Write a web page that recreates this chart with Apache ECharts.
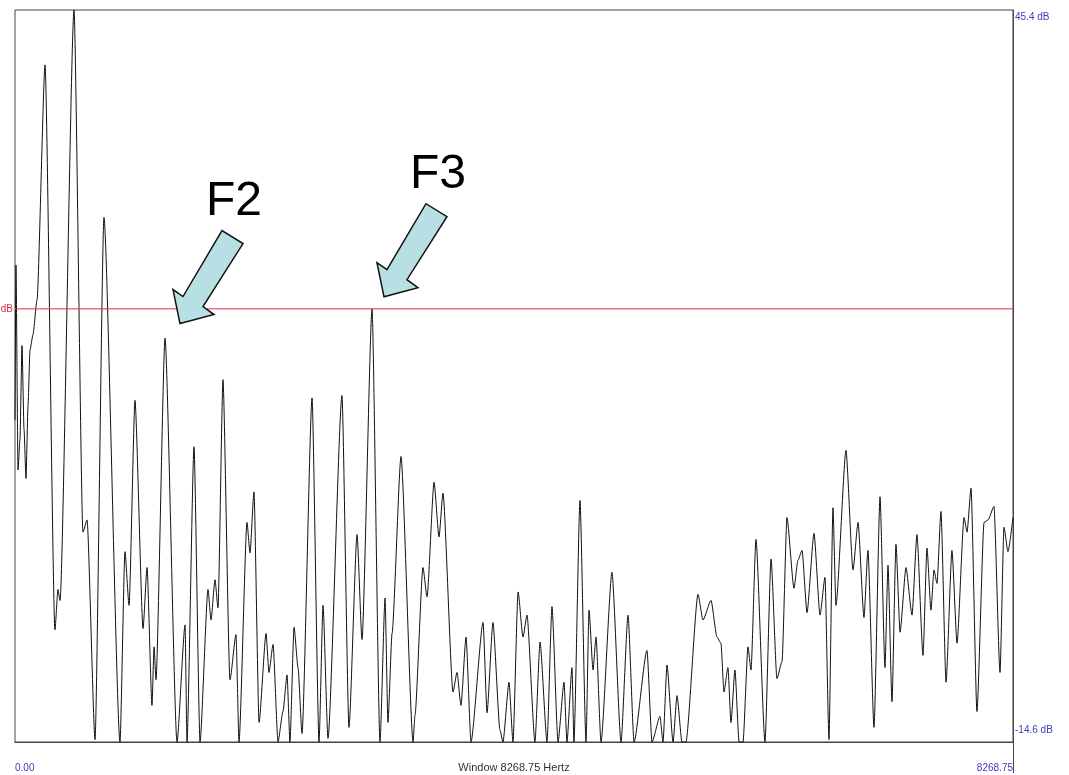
<!DOCTYPE html>
<html>
<head>
<meta charset="utf-8">
<script src="https://cdn.jsdelivr.net/npm/echarts@6/dist/echarts.min.js"></script>
<style>
  html, body { margin: 0; padding: 0; background: #fff; }
  #spectrum { width: 1069px; height: 775px; }
</style>
</head>
<body>
<div id="spectrum"></div>
<script>
// spectrum trace: frequency (Hz) and level (dB)
const freqHz = [
  0, 8, 25, 41, 58, 75, 91, 108, 124, 149, 182, 249, 331, 356, 373, 489, 563, 597, 663, 737,
  870, 911, 945, 994, 1061, 1094, 1135, 1152, 1168, 1243, 1342, 1409, 1425, 1483, 1533, 1599, 1624, 1657, 1682, 1723,
  1781, 1831, 1856, 1922, 1947, 1980, 2022, 2080, 2104, 2138, 2179, 2220, 2254, 2278, 2312, 2345, 2378, 2461, 2519, 2552,
  2593, 2709, 2767, 2834, 2875, 2958, 3024, 3066, 3090, 3124, 3198, 3298, 3314, 3380, 3414, 3472, 3513, 3546, 3629, 3662,
  3695, 3737, 3778, 3878, 3911, 3960, 4018, 4043, 4093, 4126, 4168, 4209, 4242, 4308, 4350, 4408, 4449, 4499, 4549, 4573,
  4615, 4631, 4681, 4731, 4756, 4789, 4814, 4855, 4946, 5021, 5079, 5129, 5236, 5278, 5344, 5369, 5402, 5452, 5485, 5526,
  5559, 5659, 5700, 5767, 5816, 5849, 5874, 5907, 5932, 5965, 5999, 6032, 6073, 6098, 6139, 6214, 6264, 6313, 6355, 6396,
  6454, 6487, 6521, 6562, 6620, 6670, 6711, 6744, 6777, 6802, 6885, 6943, 6985, 7034, 7067, 7117, 7167, 7208, 7233, 7266,
  7299, 7333, 7382, 7432, 7473, 7523, 7556, 7589, 7614, 7639, 7672, 7714, 7763, 7805, 7863, 7888, 7921, 7970, 8029, 8062,
  8111, 8161, 8194, 8227, 8268.75
];
const levelDb = [
  11.8, 24.5, 7.7, 10.2, 17.9, 11.0, 7.0, 13.0, 17.5, 18.8, 21.6, 40.9, -5.4, -2.1, -3.0, 45.4, 2.6, 3.6, -14.4, 28.4,
  -14.6, 1.0, -3.4, 13.4, -5.3, -0.3, -11.6, -6.8, -9.5, 18.5, -14.6, -5.0, -14.6, 9.6, -14.6, -2.1, -4.6, -1.3, -3.6, 15.1,
  -9.5, -5.8, -14.6, 3.4, 0.9, 5.9, -13.0, -5.7, -8.9, -6.6, -14.6, -12.1, -9.1, -14.6, -5.2, -8.5, -13.9, 13.6, -14.6, -3.4,
  -14.3, 13.8, -13.4, 2.4, -6.2, 20.9, -14.6, -2.8, -13.0, -5.7, 8.8, -14.6, -12.4, -0.3, -2.7, 6.7, 2.2, 5.8, -10.5, -8.9,
  -11.6, -6.0, -14.6, -4.8, -12.2, -4.8, -13.6, -14.6, -9.7, -14.6, -2.3, -6.0, -4.2, -14.6, -6.4, -14.6, -3.5, -14.6, -9.7, -14.6,
  -8.5, -14.6, 5.2, -14.6, -3.8, -8.7, -6.0, -14.6, -0.7, -14.6, -4.2, -14.6, -7.1, -14.6, -12.5, -14.6, -8.3, -14.6, -10.8, -14.6,
  -14.6, -2.5, -4.6, -3.0, -6.0, -6.5, -10.5, -8.5, -13.0, -8.7, -14.6, -14.6, -6.8, -8.7, 2.0, -14.6, 0.4, -9.4, -8.0, 3.8,
  -2.0, 0.3, 1.1, -4.0, 2.5, -4.2, -1.1, -14.4, 4.6, -3.4, 9.3, -0.5, 3.4, -4.4, 1.1, -13.4, 5.5, -8.5, -0.1, -11.3,
  1.6, -5.6, -0.3, -4.2, 2.4, -7.5, 1.3, -3.8, -0.5, -1.6, 4.3, -9.7, 1.1, -6.5, 3.8, 2.6, 6.2, -12.1, 3.4, 3.6,
  4.7, -8.9, 3.0, 1.0, 3.8
];

// axis range and the red reference level
const xRange = [0, 8268.75];
const yRange = [-14.6, 45.4];
const refLevelDb = 20.9;
const xTitle = 'Window 8268.75 Hertz';

// formant annotations (arrow tip in data units)
const noteLabels = ['F2', 'F3'];
const noteHz = [1367, 3057];
const noteDb = [19.7, 21.9];

const blue = '#3c3cbe';
const red = '#d8303c';
const font = 'Liberation Sans, Arial, sans-serif';

const chart = echarts.init(document.getElementById('spectrum'));

const option = {
  animation: false,
  grid: {
    left: 15, right: 56, top: 10, bottom: 33,
    show: true,
    borderColor: '#444',
    borderWidth: 1,
    containLabel: false,
    outerBoundsMode: 'none'
  },
  xAxis: {
    type: 'value',
    min: xRange[0],
    max: xRange[1],
    splitLine: { show: false },
    axisLine: { show: true, onZero: false, lineStyle: { color: '#444', width: 1 } },
    axisTick: {
      show: true,
      customValues: [xRange[1]],
      length: 31,
      inside: false,
      lineStyle: { color: '#444', width: 1 }
    },
    axisLabel: {
      customValues: xRange,
      color: blue,
      fontSize: 10,
      fontFamily: font,
      margin: 21,
      alignMinLabel: 'left',
      alignMaxLabel: 'right',
      formatter: v => v.toFixed(2)
    }
  },
  yAxis: [
    {
      type: 'value',
      position: 'right',
      min: yRange[0],
      max: yRange[1],
      splitLine: { show: false },
      axisLine: { show: true, onZero: false, lineStyle: { color: '#444', width: 1 } },
      axisTick: { show: false },
      axisLabel: {
        customValues: yRange,
        color: blue,
        fontSize: 10,
        fontFamily: font,
        margin: 2,
        verticalAlignMinLabel: 'bottom',
        verticalAlignMaxLabel: 'top',
        formatter: v => (v === yRange[0] ? '{lo|' : '{hi|') + v.toFixed(1) + ' dB}',
        rich: {
          lo: { color: blue, fontSize: 10, fontFamily: font, padding: [0, 0, 7, 0] },
          hi: { color: blue, fontSize: 10, fontFamily: font, padding: [2, 0, 0, 0] }
        }
      }
    },
    {
      // left side: only the "dB" tag of the reference level
      type: 'value',
      position: 'left',
      min: yRange[0],
      max: yRange[1],
      splitLine: { show: false },
      axisLine: { show: false, onZero: false },
      axisTick: { show: false },
      axisLabel: {
        customValues: [refLevelDb],
        color: red,
        fontSize: 10,
        fontFamily: font,
        margin: 2,
        formatter: () => 'dB'
      }
    }
  ],
  series: [
    {
      type: 'line',
      data: freqHz.map((f, i) => [f, levelDb[i]]),
      showSymbol: false,
      symbol: 'none',
      clip: true,
      smooth: 0.2,
      smoothMonotone: 'x',
      lineStyle: { color: '#111', width: 1 },
      z: 2
    },
    {
      // red reference level
      type: 'line',
      data: xRange.map(x => [x, refLevelDb]),
      showSymbol: false,
      symbol: 'none',
      silent: true,
      itemStyle: { color: red },
      lineStyle: { color: red, width: 1 },
      z: 3
    }
  ]
};
chart.setOption(option);

// arrow outline relative to its tip, pixels
const arrowShape = [[0, 0], [-7, -34], [3, -27], [42, -93], [63, -80], [23, -17], [34, -9]];

const graphics = [];
noteLabels.forEach((label, i) => {
  const tip = chart.convertToPixel({ seriesIndex: 0 }, [noteHz[i], noteDb[i]]);
  graphics.push({
    type: 'polygon',
    shape: { points: arrowShape.map(p => [tip[0] + p[0], tip[1] + p[1]]) },
    style: { fill: '#b8e0e4', stroke: '#111', lineWidth: 1.5 },
    z: 10
  });
  graphics.push({
    type: 'text',
    x: tip[0] + 54,
    y: tip[1] - 122,
    style: {
      text: label,
      fill: '#000',
      font: '48px ' + font,
      textAlign: 'center',
      textVerticalAlign: 'middle'
    },
    z: 10
  });
});

// axis title under the middle of the frequency axis
const mid = chart.convertToPixel({ seriesIndex: 0 }, [(xRange[0] + xRange[1]) / 2, yRange[0]]);
graphics.push({
  type: 'text',
  x: mid[0],
  y: mid[1] + 26,
  style: {
    text: xTitle,
    fill: '#333',
    font: '11px ' + font,
    textAlign: 'center',
    textVerticalAlign: 'middle'
  }
});
chart.setOption({ graphic: graphics });
</script>
</body>
</html>
